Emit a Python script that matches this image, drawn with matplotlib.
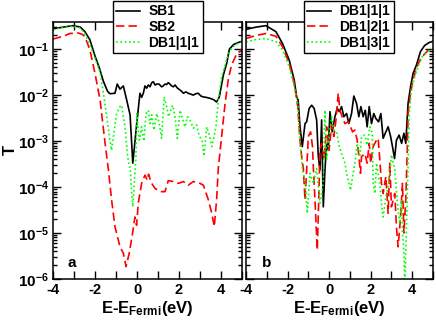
import numpy as np
import matplotlib
matplotlib.use("Agg")
import matplotlib.pyplot as plt
from matplotlib.ticker import FixedLocator, FuncFormatter, LogLocator, NullFormatter

plt.rcParams["font.family"] = ["Liberation Sans", "DejaVu Sans"]
plt.rcParams["font.weight"] = "bold"
plt.rcParams["mathtext.fontset"] = "custom"
plt.rcParams["mathtext.rm"] = "Liberation Sans:bold"
plt.rcParams["mathtext.bf"] = "Liberation Sans:bold"
plt.rcParams["mathtext.it"] = "Liberation Sans:bold"
plt.rcParams["axes.unicode_minus"] = False

# ---- panel a (log10 T) ----
sb1_E = [-4.0, -3.5, -3.05, -2.7, -2.48, -2.24, -2.0, -1.8, -1.6, -1.4, -1.29, -1.05,
         -0.94, -0.81, -0.65, -0.49, -0.33, -0.2, -0.01, 0.14, 0.22, 0.30, 0.38, 0.46,
         0.54, 0.62, 0.70, 0.78, 0.86, 0.94, 1.05, 1.17, 1.25, 1.33, 1.41, 1.49, 1.57,
         1.65, 1.73, 1.81, 1.93, 2.05, 2.13, 2.21, 2.33, 2.44, 2.56, 2.68, 2.8, 2.92,
         3.04, 3.16, 3.3, 3.48, 3.65, 3.79, 3.92, 4.11, 4.27, 4.4, 4.6, 4.8, 5.0]
sb1_logT = [-0.56, -0.52, -0.49, -0.52, -0.62, -0.80, -1.15, -1.40, -1.70, -1.92, -1.97, -1.96,
            -1.76, -1.87, -1.80, -2.11, -2.43, -3.48, -2.61, -1.96, -2.05, -1.96, -1.80, -1.85,
            -1.78, -1.82, -1.73, -1.71, -1.78, -1.76, -1.76, -1.82, -1.80, -1.76, -1.77, -1.73, -1.76,
            -1.80, -1.82, -1.78, -1.85, -1.89, -1.92, -1.96, -1.93, -1.96, -1.98, -2.0, -1.97, -1.96,
            -2.02, -2.04, -2.05, -2.07, -2.10, -2.15, -2.04, -1.57, -1.31, -1.0, -0.9, -0.86, -0.83]

sb2_E = [-4.0, -3.5, -3.2, -2.8, -2.6, -2.48, -2.24, -2.0, -1.76, -1.52, -1.36, -1.21,
         -1.05, -0.81, -0.65, -0.52, -0.37, -0.21, -0.10, -0.02, 0.06, 0.22, 0.38, 0.44,
         0.49, 0.55, 0.59, 0.70, 0.86, 1.10, 1.33, 1.49, 1.73, 1.97, 2.21, 2.44, 2.68,
         2.92, 3.16, 3.40, 3.56, 3.68, 3.79, 3.87, 4.03, 4.19, 4.35, 4.5, 4.7, 5.0]
sb2_logT = [-0.78, -0.72, -0.66, -0.65, -0.68, -0.73, -1.02, -1.53, -2.1, -3.05, -3.63, -4.28,
            -4.86, -5.30, -5.44, -5.73, -5.44, -5.0, -4.65, -4.83, -4.35, -3.92, -3.74, -3.80,
            -3.85, -3.72, -3.78, -3.92, -4.03, -4.10, -4.10, -3.86, -3.88, -3.92, -3.88, -3.96, -3.88,
            -3.9, -3.96, -4.28, -4.57, -4.86, -4.28, -3.6, -2.9, -2.2, -1.65, -1.35, -1.15, -1.0]

db111a_E = [-4.0, -3.5, -3.05, -2.7, -2.5, -2.25, -2.0, -1.76, -1.6, -1.44, -1.29, -1.21,
            -1.1, -0.97, -0.81, -0.73, -0.65, -0.57, -0.46, -0.37, -0.33, -0.25, -0.2, -0.13,
            -0.05, -0.01, 0.11, 0.22, 0.33, 0.43, 0.54, 0.62, 0.70, 0.81, 0.94, 1.06, 1.17,
            1.29, 1.41, 1.51, 1.6, 1.7, 1.81, 1.92, 2.05, 2.17, 2.29, 2.40, 2.52, 2.68, 2.84,
            2.97, 3.10, 3.19, 3.32, 3.44, 3.56, 3.67, 3.76, 3.87, 4.03, 4.19, 4.35, 4.5, 4.7, 5.0]
db111a_logT = [-0.57, -0.53, -0.50, -0.54, -0.66, -0.90, -1.20, -1.50, -1.96, -2.47, -2.98, -3.2,
               -2.83, -2.4, -2.25, -2.22, -2.47, -2.69, -3.27, -3.56, -3.56, -4.14, -4.43, -3.92,
               -3.34, -2.4, -2.98, -2.69, -3.0, -2.4, -2.33, -2.62, -2.43, -2.76, -2.4, -2.62, -2.94,
               -2.04, -2.25, -2.47, -2.33, -2.22, -2.47, -2.94, -2.33, -2.51, -2.69, -2.47, -2.54, -2.72, -2.65,
               -2.9, -2.98, -3.33, -2.69, -2.87, -3.12, -2.9, -2.69, -2.11, -1.6, -1.35, -1.12, -0.98, -0.9, -0.84]

# ---- panel b ----
db111b_E = [-4.0, -3.5, -3.04, -2.56, -2.24, -1.92, -1.68, -1.56, -1.49, -1.40, -1.29, -1.16,
            -1.08, -0.96, -0.84, -0.72, -0.60, -0.52, -0.44, -0.36, -0.28, -0.20, -0.12, -0.04,
            0.04, 0.15, 0.28, 0.39, 0.49, 0.60, 0.71, 0.84, 0.95, 1.08, 1.19, 1.32, 1.43, 1.53,
            1.64, 1.74, 1.83, 1.93, 2.04, 2.15, 2.25, 2.38, 2.49, 2.60, 2.73, 2.84, 2.96, 3.05,
            3.15, 3.24, 3.37, 3.49, 3.60, 3.69, 3.80, 3.92, 4.04, 4.2, 4.4, 4.6, 4.8, 5.0]
db111b_logT = [-0.57, -0.52, -0.49, -0.62, -0.88, -1.24, -1.67, -2.04, -2.11, -2.69, -3.12, -2.62,
               -2.58, -2.29, -2.22, -2.29, -2.54, -3.34, -3.63, -2.54, -4.43, -3.63, -3.05, -3.2,
               -2.36, -2.80, -2.47, -2.29, -2.36, -2.25, -2.47, -2.40, -2.62, -2.40, -2.02, -2.18, -2.47, -2.25,
               -2.47, -2.33, -2.69, -2.25, -2.62, -2.40, -2.51, -2.58, -2.40, -2.94, -2.80, -2.69, -2.90, -3.12,
               -3.38, -2.98, -2.87, -3.05, -2.83, -3.05, -2.18, -1.82, -1.53, -1.35, -1.05, -0.92, -0.86, -0.83]

db121_E = [-4.0, -3.5, -3.04, -2.56, -2.24, -1.92, -1.68, -1.51, -1.40, -1.32, -1.24, -1.16,
           -1.08, -1.0, -0.89, -0.80, -0.76, -0.68, -0.57, -0.50, -0.44, -0.36, -0.24, -0.12,
           0.0, 0.12, 0.23, 0.33, 0.44, 0.52, 0.63, 0.76, 0.92, 1.03, 1.13, 1.24, 1.35, 1.45,
           1.51, 1.56, 1.72, 1.83, 1.93, 2.0, 2.12, 2.28, 2.36, 2.44, 2.52, 2.60, 2.73, 2.84,
           2.92, 3.00, 3.16, 3.24, 3.32, 3.44, 3.53, 3.60, 3.69, 3.76, 3.80, 3.92, 4.04, 4.2,
           4.37, 4.6, 4.8, 5.0]
db121_logT = [-0.77, -0.70, -0.66, -0.72, -0.95, -1.31, -1.74, -2.25, -2.98, -3.34, -3.6, -4.28,
              -3.63, -2.9, -2.80, -3.12, -3.56, -4.28, -5.37, -4.28, -3.2, -3.05, -3.4, -2.69,
              -3.2, -2.65, -2.9, -2.54, -1.96, -2.33, -2.47, -2.62, -2.58, -2.69, -2.80, -2.76, -2.98, -3.41,
              -3.70, -3.34, -3.27, -3.48, -3.05, -3.48, -3.12, -2.98, -2.94, -3.41, -3.92, -4.14, -3.77, -4.57,
              -3.48, -4.43, -4.14, -4.86, -5.30, -4.65, -3.92, -5.0, -4.28, -3.2, -2.4, -1.96, -1.67, -1.42,
              -1.24, -1.1, -1.02, -0.97]

db131_E = [-4.0, -3.5, -3.04, -2.56, -2.24, -1.92, -1.68, -1.51, -1.40, -1.27, -1.16, -1.05,
           -0.92, -0.76, -0.6, -0.44, -0.28, -0.20, -0.12, 0.0, 0.12, 0.23, 0.36, 0.49, 0.60,
           0.76, 0.84, 0.92, 1.03, 1.13, 1.24, 1.35, 1.48, 1.56, 1.72, 1.83, 1.96, 2.08, 2.12,
           2.20, 2.28, 2.44, 2.52, 2.60, 2.73, 2.88, 3.0, 3.16, 3.24, 3.32, 3.40, 3.49, 3.53,
           3.60, 3.65, 3.69, 3.76, 3.80, 3.86, 3.96, 4.12, 4.28, 4.5, 4.75, 5.0]
db131_logT = [-0.84, -0.79, -0.77, -0.84, -1.02, -1.38, -1.82, -2.18, -3.05, -3.63, -3.9, -4.57,
              -3.70, -3.92, -3.6, -4.35, -3.92, -2.33, -3.41, -2.9, -2.47, -2.76, -2.8, -3.12, -3.27,
              -3.48, -3.70, -3.85, -4.07, -3.77, -3.48, -3.05, -3.34, -2.9, -2.87, -3.09, -2.69, -2.83, -3.92,
              -4.14, -3.48, -3.92, -4.35, -4.65, -4.21, -3.92, -3.3, -3.63, -4.07, -4.5, -4.79, -4.28, -5.0,
              -5.44, -6.2, -5.37, -4.28, -3.48, -2.4, -1.89, -1.6, -1.38, -1.15, -1.05, -1.0]

xticks = [-4, -2, 0, 2, 4]

W, H = 436, 323
fig = plt.figure(figsize=(W / 100, H / 100), dpi=100)
ax1 = fig.add_axes([53 / W, 1 - 279 / H, 189 / W, 257 / H])
ax2 = fig.add_axes([246 / W, 1 - 279 / H, 187 / W, 257 / H])

dash = (0, (5, 2.5))
dot = (0, (1, 1.6))

l1, = ax1.plot(sb1_E, 10 ** np.array(sb1_logT), color="black", lw=1.2, label="SB1")
l2, = ax1.plot(sb2_E, 10 ** np.array(sb2_logT), color="#ff0000", lw=1.2, ls=dash, label="SB2")
l3, = ax1.plot(db111a_E, 10 ** np.array(db111a_logT), color="#00ff00", lw=1.2, ls=dot, label="DB1|1|1")

r1, = ax2.plot(db111b_E, 10 ** np.array(db111b_logT), color="black", lw=1.2, label="DB1|1|1")
r2, = ax2.plot(db121_E, 10 ** np.array(db121_logT), color="#ff0000", lw=1.2, ls=dash, label="DB1|2|1")
r3, = ax2.plot(db131_E, 10 ** np.array(db131_logT), color="#00ff00", lw=1.2, ls=dot, label="DB1|3|1")

fmt = FuncFormatter(lambda v, p: r"$\mathbf{10^{%d}}$" % round(np.log10(v)))
for ax in (ax1, ax2):
    ax.set_yscale("log")
    ax.set_ylim(1e-6, 10 ** -0.41)
    ax.set_xlim(-4, 5)
    ax.xaxis.set_major_locator(FixedLocator(xticks))
    ax.xaxis.set_minor_locator(FixedLocator([-3, -1, 1, 3, 5]))
    ax.yaxis.set_major_locator(LogLocator(base=10, numticks=10))
    ax.yaxis.set_minor_locator(LogLocator(base=10, subs=np.arange(2, 10), numticks=10))
    ax.yaxis.set_minor_formatter(NullFormatter())
    ax.tick_params(which="both", direction="in", top=True, right=True, width=1.0)
    ax.tick_params(axis="x", labelsize=10.5, pad=3)
    ax.tick_params(axis="y", labelsize=11, pad=3)
    ax.tick_params(which="major", length=5.5)
    ax.tick_params(axis="y", which="minor", length=2.8)
    ax.tick_params(axis="x", which="minor", length=5.5)
    for s in ax.spines.values():
        s.set_linewidth(1.1)
    ax.set_xlabel(r"E-E$_{\mathbf{Fermi}}$(eV)", fontsize=12, fontweight="bold", labelpad=1)

ax1.yaxis.set_major_formatter(fmt)
ax2.yaxis.set_major_formatter(NullFormatter())
fig.text(10 / W, 1 - 150 / H, "T", rotation=90, fontsize=12, fontweight="bold",
         ha="center", va="center")

ax1.text(0.10, 0.062, "a", transform=ax1.transAxes, fontsize=11, fontweight="bold",
         ha="center", va="center")
ax2.text(0.112, 0.062, "b", transform=ax2.transAxes, fontsize=11, fontweight="bold",
         ha="center", va="center")

leg_kw = dict(loc="upper left", bbox_transform=fig.transFigure, frameon=True, fancybox=False,
              edgecolor="black", framealpha=1, prop={"weight": "bold", "size": 10},
              handlelength=1.7, borderpad=0.25, labelspacing=0.12, handletextpad=0.6,
              borderaxespad=0)
lg1 = ax1.legend(handles=[l1, l2, l3], bbox_to_anchor=(113 / W, 1 - 1 / H), **leg_kw)
lg2 = ax2.legend(handles=[r1, r2, r3], bbox_to_anchor=(304 / W, 1 - 1 / H), **leg_kw)
for lg in (lg1, lg2):
    lg.get_frame().set_linewidth(1.0)

fig.savefig("out.png", dpi=100)
